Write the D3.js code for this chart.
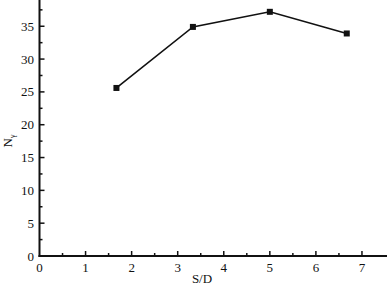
<!DOCTYPE html>
<html lang="en">
<head>
<meta charset="UTF-8">
<title>N gamma vs S/D</title>
<script src="https://cdn.jsdelivr.net/npm/d3@7/dist/d3.min.js"></script>
<style>
  body { margin: 0; background: #fff; }
</style>
</head>
<body>
<svg id="chart" width="387" height="289"></svg>
<script>
// data
const sdValues = [1.67, 3.33, 5.0, 6.67];
const nGamma = [25.6, 34.9, 37.2, 33.9];
const xTicks = [0, 1, 2, 3, 4, 5, 6, 7];
const yTicks = [0, 5, 10, 15, 20, 25, 30, 35];

const FONT = "'Liberation Serif', 'DejaVu Serif', serif";
const svg = d3.select("#chart")
  .attr("font-family", FONT);
const x0 = 39.5, x1 = 385, y0 = 256, y1 = 0;

const x = d3.scaleLinear().domain([0, 7.5]).range([x0, x1]);
const y = d3.scaleLinear().domain([0, 39]).range([y0, y1]);

// axis lines
svg.append("line").attr("x1", x0).attr("x2", x0).attr("y1", y0 + 1).attr("y2", y1)
  .attr("stroke", "#111").attr("stroke-width", 2);
svg.append("line").attr("x1", x0 - 1).attr("x2", x1 + 2).attr("y1", y0).attr("y2", y0)
  .attr("stroke", "#111").attr("stroke-width", 2);

// x ticks (inside, pointing up)
const xMinor = d3.range(0.5, 7.5, 1);
svg.selectAll(".xmaj").data(xTicks.filter(d => d > 0)).enter().append("line")
  .attr("x1", d => x(d)).attr("x2", d => x(d)).attr("y1", y0).attr("y2", y0 - 5)
  .attr("stroke", "#111").attr("stroke-width", 1.5);
svg.selectAll(".xmin").data(xMinor).enter().append("line")
  .attr("x1", d => x(d)).attr("x2", d => x(d)).attr("y1", y0).attr("y2", y0 - 3)
  .attr("stroke", "#111").attr("stroke-width", 1.5);
svg.selectAll(".xlab").data(xTicks).enter().append("text")
  .attr("x", d => x(d)).attr("y", 272)
  .attr("text-anchor", "middle").attr("font-size", 13).attr("fill", "#111")
  .attr("font-family", FONT)
  .text(d => d);

// y ticks (inside, pointing right)
const yMinor = d3.range(2.5, 39, 5);
svg.selectAll(".ymaj").data(yTicks.filter(d => d > 0)).enter().append("line")
  .attr("x1", x0).attr("x2", x0 + 5).attr("y1", d => y(d)).attr("y2", d => y(d))
  .attr("stroke", "#111").attr("stroke-width", 1.5);
svg.selectAll(".ymin").data(yMinor).enter().append("line")
  .attr("x1", x0).attr("x2", x0 + 3).attr("y1", d => y(d)).attr("y2", d => y(d))
  .attr("stroke", "#111").attr("stroke-width", 1.5);
svg.selectAll(".ylab").data(yTicks).enter().append("text")
  .attr("x", 34).attr("y", d => y(d) + 4.5)
  .attr("text-anchor", "end").attr("font-size", 13).attr("fill", "#111")
  .attr("font-family", FONT)
  .text(d => d);

// axis titles
svg.append("text").attr("x", 202).attr("y", 283)
  .attr("text-anchor", "middle").attr("font-size", 13).attr("fill", "#111")
  .attr("font-family", FONT).text("S/D");
const yl = svg.append("text")
  .attr("transform", "translate(12,141) rotate(-90)")
  .attr("text-anchor", "middle").attr("font-size", 13).attr("fill", "#111")
  .attr("font-family", FONT);
yl.append("tspan").text("N");
yl.append("tspan").attr("font-size", 8).attr("dy", 3).text("γ");

// line + square markers
const pts = sdValues.map((d, i) => [d, nGamma[i]]);
svg.append("path").datum(pts)
  .attr("d", d3.line().x(d => x(d[0])).y(d => y(d[1])))
  .attr("fill", "none").attr("stroke", "#111").attr("stroke-width", 1.6);
svg.selectAll(".pt").data(pts).enter().append("rect")
  .attr("x", d => x(d[0]) - 3).attr("y", d => y(d[1]) - 3)
  .attr("width", 6).attr("height", 6).attr("fill", "#111");
</script>
</body>
</html>
